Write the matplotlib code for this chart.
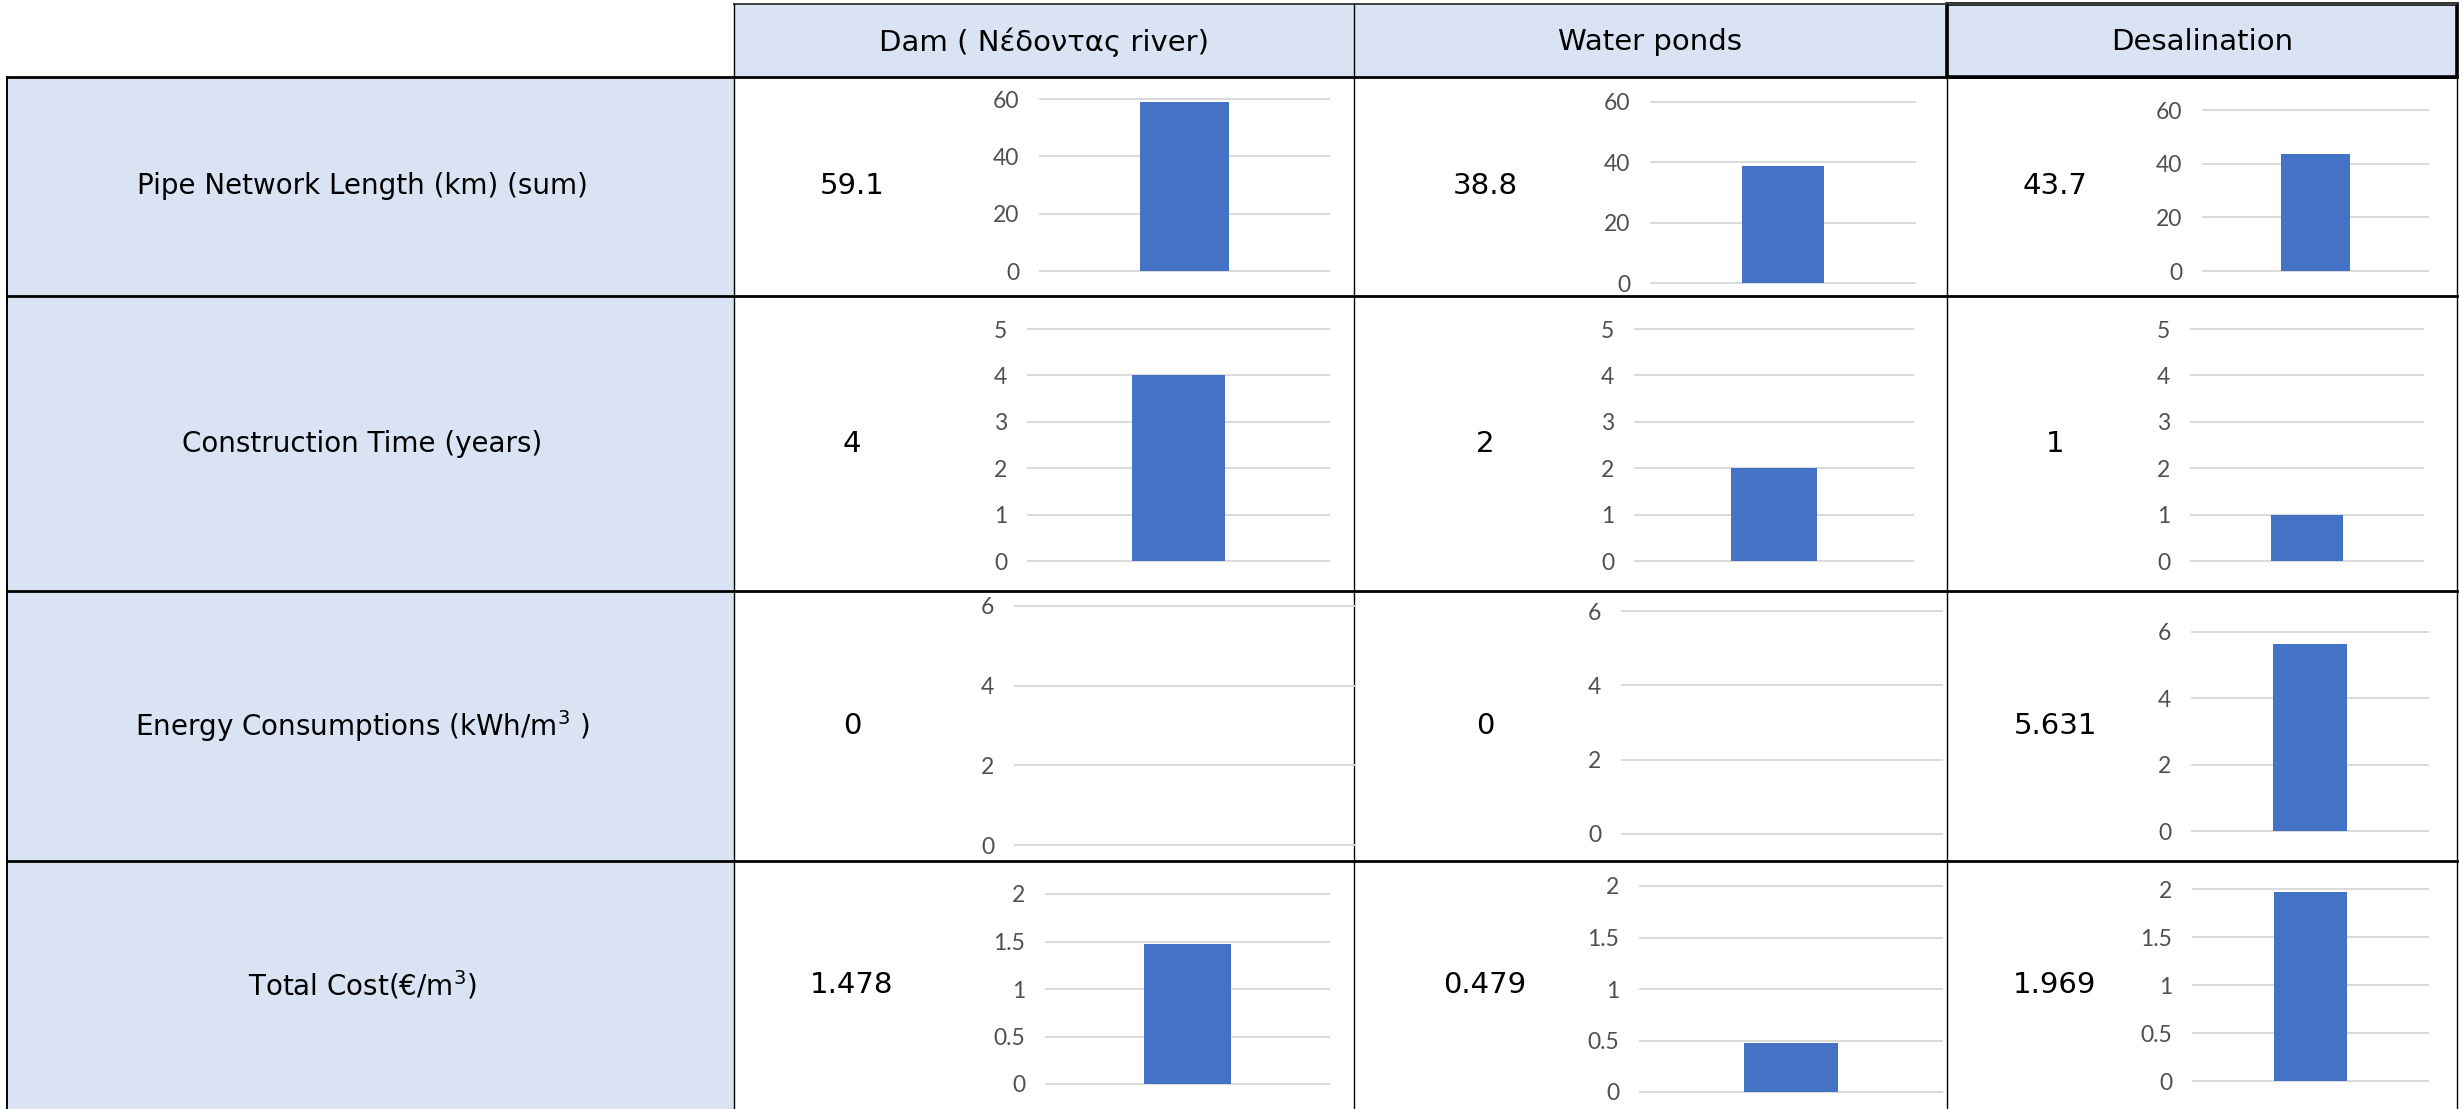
import matplotlib
matplotlib.use('Agg')

import matplotlib.pyplot as plt
from matplotlib.patches import Rectangle
from matplotlib.ticker import FuncFormatter, MultipleLocator

# ===============================
# Data
# ===============================

methods = ["Dam ( Νέδοντας river)", "Water ponds", "Desalination"]
criteria = [
    "Pipe Network Length (km) (sum)",
    "Construction Time (years)",
    "Energy Consumptions (kWh/m$^3$ )",
    "Total Cost(€/m$^3$)",
]

pipe_length = [59.1, 38.8, 43.7]
construction_time = [4, 2, 1]
energy = [0, 0, 5.631]
total_cost = [1.478, 0.479, 1.969]

values = [pipe_length, construction_time, energy, total_cost]
y_max = [60, 5, 6, 2]
y_step = [20, 1, 2, 0.5]

# ===============================
# Layout (pixels of the 2459x1109 canvas)
# ===============================

W, H = 2459, 1109
left_x = 7
col_x = [734, 1354, 1947, 2457]
head_top = 4
row_y = [77, 296, 591, 861, 1109]
value_x = [852, 1485, 2055]

# plot area of each small chart: (x_left, x_right, y_top, y_zero)
chart_boxes = [
    [(1040, 1329, 99, 271), (1651, 1915, 102, 283), (2203, 2428, 110, 271)],
    [(1028, 1329, 329, 561), (1635, 1913, 329, 561), (2191, 2423, 329, 561)],
    [(1015, 1354, 606, 845), (1622, 1942, 611, 834), (2192, 2428, 632, 831)],
    [(1046, 1329, 894, 1084), (1640, 1942, 886, 1092), (2193, 2428, 889, 1081)],
]

fill = "#DAE3F3"
bar_color = "#4472C4"
grid_color = "#D9D9D9"
tick_color = "#505050"
table_font = "DejaVu Sans"
tick_font = "Lato"

plt.rcParams['mathtext.default'] = 'regular'

fig = plt.figure(figsize=(W / 100, H / 100), dpi=100)
bg = fig.add_axes([0, 0, 1, 1])
bg.set_xlim(0, W)
bg.set_ylim(H, 0)
bg.axis('off')

# cell fills
bg.add_patch(Rectangle((col_x[0], head_top), col_x[-1] - col_x[0], row_y[0] - head_top,
                       facecolor=fill, edgecolor='none'))
bg.add_patch(Rectangle((left_x, row_y[0]), col_x[0] - left_x, H - row_y[0],
                       facecolor=fill, edgecolor='none'))

# borders
for y in row_y[:-1]:
    bg.plot([left_x, col_x[-1]], [y, y], color='black', lw=2.0)
bg.plot([col_x[0], col_x[-1]], [head_top, head_top], color='#404040', lw=1.4)
bg.plot([left_x, left_x], [row_y[0], H], color='black', lw=1.4)
for x in col_x:
    bg.plot([x, x], [head_top, H], color='black', lw=1.0)
bg.add_patch(Rectangle((col_x[2], head_top), col_x[3] - col_x[2], row_y[0] - head_top,
                       facecolor='none', edgecolor='black', lw=2.6))

# header and row labels
for j, name in enumerate(methods):
    bg.text((col_x[j] + col_x[j + 1]) / 2, (head_top + row_y[0]) / 2 + 2, name,
            ha='center', va='center', fontsize=21, family=table_font)

for i, name in enumerate(criteria):
    yc = (row_y[i] + row_y[i + 1]) / 2
    bg.text((left_x + col_x[0]) / 2 - 8, yc, name,
            ha='center', va='center', fontsize=20, family=table_font)
    for j in range(3):
        bg.text(value_x[j], yc, f"{values[i][j]:g}",
                ha='center', va='center', fontsize=21, family=table_font)

# small bar charts
for i in range(4):
    for j in range(3):
        x0, x1, yt, yz = chart_boxes[i][j]
        ax = fig.add_axes([x0 / W, 1 - yz / H, (x1 - x0) / W, (yz - yt) / H])
        ax.set_xlim(-0.5, 0.5)
        ax.set_ylim(0, y_max[i])
        ax.patch.set_alpha(0)
        ax.bar([0], [values[i][j]], width=0.31, color=bar_color, zorder=3)
        ax.yaxis.set_major_locator(MultipleLocator(y_step[i]))
        ax.yaxis.set_major_formatter(FuncFormatter(lambda v, p: f"{v:g}"))
        for t in ax.get_yticks():
            if 0 <= t <= y_max[i]:
                ax.axhline(t, color=grid_color, lw=1.4, zorder=1, clip_on=False)
        ax.set_xticks([])
        ax.tick_params(axis='y', length=0, pad=15, labelsize=16.5, labelcolor=tick_color)
        for lab in ax.get_yticklabels():
            lab.set_family(tick_font)
        for s in ax.spines.values():
            s.set_visible(False)

fig.savefig("out.png", dpi=100)
